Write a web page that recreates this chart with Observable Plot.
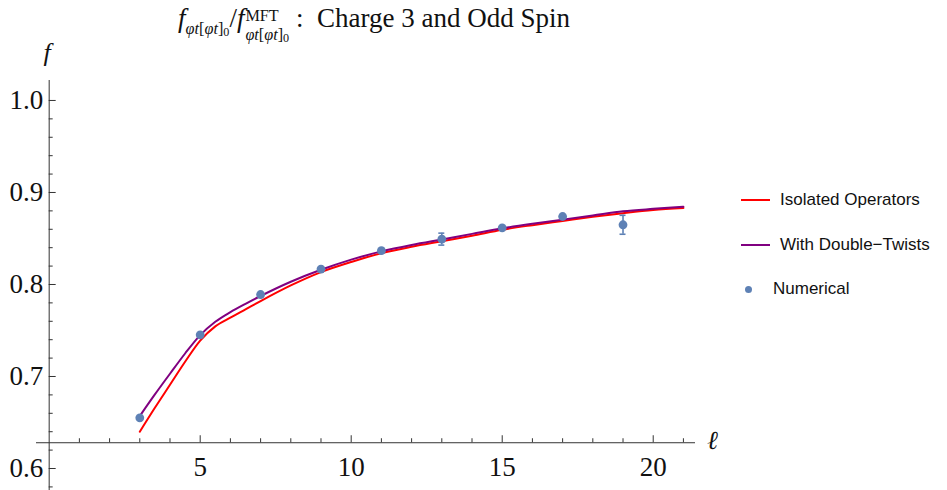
<!DOCTYPE html>
<html><head><meta charset="utf-8">
<script src="https://cdn.jsdelivr.net/npm/d3@7"></script>
<script src="https://cdn.jsdelivr.net/npm/@observablehq/plot@0.6"></script>
<style>
body{margin:0;background:#fff;width:947px;height:490px;position:relative;overflow:hidden;font-family:"Liberation Serif",serif}
#title{position:absolute;left:8px;top:0;width:732px;height:40px;text-align:center;font-size:27px;line-height:36px;color:#111;white-space:nowrap}
#title i{font-style:italic}
.ss{display:inline-block;vertical-align:-0.8em;line-height:1.2;font-size:0.6em;text-align:left;margin-left:1px}
.ln{display:block;height:1.15em}
.sub{font-size:0.6em;vertical-align:-0.45em}
.z{font-size:0.75em;vertical-align:-0.2em;line-height:1}
#chart{position:absolute;left:0;top:40px}
#legend{position:absolute;left:741px;top:178px;font-family:"Liberation Sans",Arial,sans-serif;font-size:17px;color:#111}
.item{height:44.5px;display:flex;align-items:center;position:relative}
.sw{width:29px;height:2px;margin-right:10px}
.dt{width:7px;height:7px;border-radius:50%;background:#5E81B5;margin:0 21px 0 4px}
</style></head><body>
<div id="title"><i>f</i><span class="sub"><i>φt</i>[<i>φt</i>]<span class="z">0</span></span>/<i>f</i><span class="ss"><span class="ln">MFT</span><span class="ln"><i>φt</i>[<i>φt</i>]<span class="z">0</span></span></span> :&nbsp; Charge 3 and Odd Spin</div>
<div id="chart"></div>
<div id="legend">
  <div class="item"><div class="sw" style="background:#ff0000"></div>Isolated Operators</div>
  <div class="item"><div class="sw" style="background:#800080"></div>With Double−Twists</div>
  <div class="item"><div class="dt"></div>Numerical</div>
</div>
<script>
// Numerical data
const ellNum = [3, 5, 7, 9, 11, 13, 15, 17, 19];
const fNum = [0.6551, 0.7453, 0.7891, 0.8167, 0.8367, 0.8493, 0.8616, 0.8739, 0.8649];
const errNum = [0, 0, 0, 0, 0, 0.0065, 0, 0, 0.0103];

// Analytic curves
const ellCurve = [3, 3.5, 4, 4.5, 5, 5.5, 6, 6.5, 7, 8, 9, 10, 11, 12, 13, 14, 15, 16, 17, 18, 19, 20, 21];
const fIsolated = [0.640, 0.666, 0.691, 0.716, 0.739, 0.7545, 0.764, 0.773, 0.782, 0.799, 0.8135, 0.8245, 0.834, 0.841, 0.847, 0.853, 0.8595, 0.8645, 0.869, 0.8735, 0.8775, 0.881, 0.8832];
const fDoubleTwists = [0.657, 0.6805, 0.703, 0.725, 0.745, 0.7595, 0.770, 0.779, 0.7875, 0.803, 0.816, 0.827, 0.836, 0.843, 0.849, 0.855, 0.861, 0.866, 0.8705, 0.875, 0.8795, 0.8822, 0.8845];

// Ticks
const xMajorTicks = [5, 10, 15, 20];
const xMinorTicks = [1, 2, 3, 4, 6, 7, 8, 9, 11, 12, 13, 14, 16, 17, 18, 19, 21];
const yMajorTicks = [0.6, 0.7, 0.8, 0.9, 1.0];
const yMinorTicks = [0.58, 0.62, 0.64, 0.66, 0.68, 0.72, 0.74, 0.76, 0.78, 0.82, 0.84, 0.86, 0.88, 0.92, 0.94, 0.96, 0.98];
const xAxisLabel = "ℓ";
const yAxisLabel = "f";

// Layout
const W = 735, H = 450, mL = 36, mR = 40, mT = 40, mB = 0;
const xDomain = [-0.42, 21.4];
const yDomain = [0.5761, 1.0217];
const x0 = 0, y0 = 0.628;
const xPerPx = (xDomain[1] - xDomain[0]) / (W - mL - mR);
const yPerPx = (yDomain[1] - yDomain[0]) / (H - mT - mB);
const axisColor = "#333";
const serif = "Liberation Serif";
const tickFont = 27;

const numData = ellNum.map((l, i) => ({l, f: fNum[i], e: errNum[i]}));
const errData = numData.filter(d => d.e > 0);
const curveIso = ellCurve.map((l, i) => ({l, f: fIsolated[i]}));
const curveDT = ellCurve.map((l, i) => ({l, f: fDoubleTwists[i]}));

const plot = Plot.plot({
  width: W, height: H,
  marginLeft: mL, marginRight: mR, marginTop: mT, marginBottom: mB,
  x: {domain: xDomain, axis: null},
  y: {domain: yDomain, axis: null},
  style: {background: "transparent", overflow: "visible"},
  marks: [
    Plot.ruleY([y0], {x1: xDomain[0], x2: xDomain[1], stroke: axisColor, strokeWidth: 1}),
    Plot.ruleX([x0], {y1: yDomain[0], y2: yDomain[1], stroke: axisColor, strokeWidth: 1}),
    Plot.ruleX(xMajorTicks, {x: d => d, y1: y0, y2: y0 + 7 * yPerPx, stroke: axisColor}),
    Plot.ruleX(xMinorTicks, {x: d => d, y1: y0, y2: y0 + 4 * yPerPx, stroke: axisColor}),
    Plot.ruleY(yMajorTicks, {y: d => d, x1: x0, x2: x0 + 7 * xPerPx, stroke: axisColor}),
    Plot.ruleY(yMinorTicks, {y: d => d, x1: x0, x2: x0 + 4 * xPerPx, stroke: axisColor}),
    Plot.text(xMajorTicks, {x: d => d, y: y0, dy: 25, text: d => String(d), fontSize: tickFont, fontFamily: serif, fill: "#111", lineAnchor: "middle"}),
    Plot.text(yMajorTicks, {x: x0, y: d => d, dx: -6, text: d => d.toFixed(1), textAnchor: "end", fontSize: tickFont, fontFamily: serif, fill: "#111", lineAnchor: "middle"}),
    Plot.text([yAxisLabel], {x: x0, y: yDomain[1], dy: -28, dx: -2, text: d => d, fontSize: 26, fontFamily: serif, fontStyle: "italic", fill: "#111", lineAnchor: "middle"}),
    Plot.text([xAxisLabel], {x: xDomain[1], y: y0, dx: 17, dy: -2, text: d => d, fontSize: 26, fontFamily: serif, fontStyle: "italic", fill: "#111", lineAnchor: "middle"}),
    Plot.line(curveIso, {x: "l", y: "f", stroke: "#ff0000", strokeWidth: 2, curve: "monotone-x"}),
    Plot.line(curveDT, {x: "l", y: "f", stroke: "#800080", strokeWidth: 2, curve: "monotone-x"}),
    Plot.ruleX(errData, {x: "l", y1: d => d.f - d.e, y2: d => d.f + d.e, stroke: "#5E81B5", strokeWidth: 1.6}),
    Plot.ruleY(errData, {y: d => d.f - d.e, x1: d => d.l - 3 * xPerPx, x2: d => d.l + 3 * xPerPx, stroke: "#5E81B5", strokeWidth: 1.6}),
    Plot.ruleY(errData, {y: d => d.f + d.e, x1: d => d.l - 3 * xPerPx, x2: d => d.l + 3 * xPerPx, stroke: "#5E81B5", strokeWidth: 1.6}),
    Plot.dot(numData, {x: "l", y: "f", r: 4.4, fill: "#5E81B5", stroke: "none"})
  ]
});
document.getElementById("chart").appendChild(plot);
</script>
</body></html>
